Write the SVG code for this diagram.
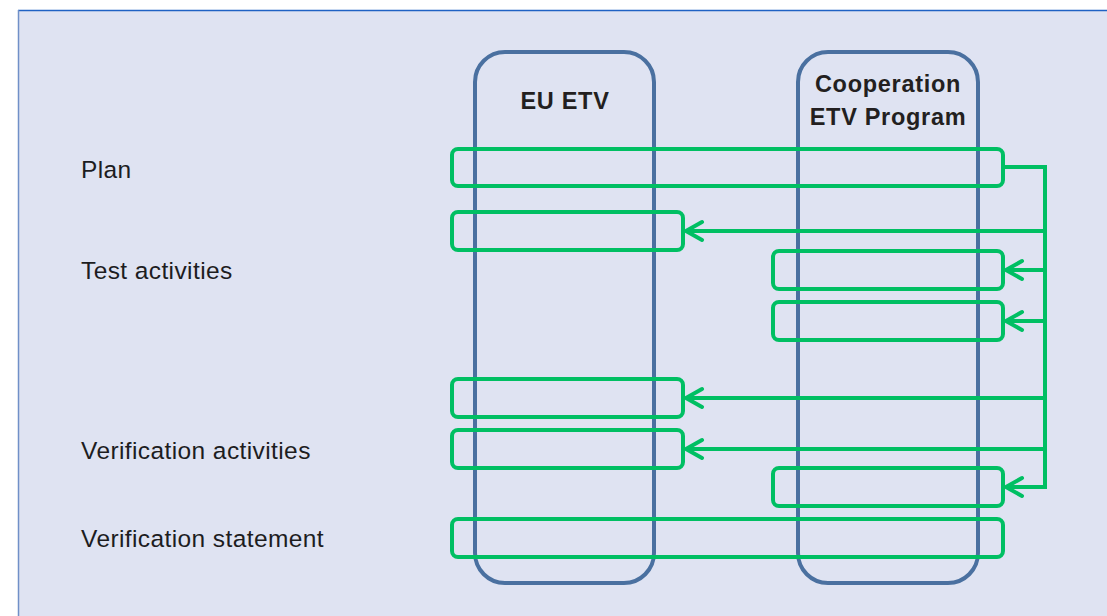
<svg xmlns="http://www.w3.org/2000/svg" width="1107" height="616" viewBox="0 0 1107 616">
<style>
.lbl{font-family:"Liberation Sans",Arial,sans-serif;font-size:24.5px;letter-spacing:0.4px;fill:#1d1d1f}
.ttl{font-family:"Liberation Sans",Arial,sans-serif;font-size:23.5px;letter-spacing:0.7px;font-weight:bold;fill:#231f20;text-anchor:middle}
.col{fill:none;stroke:#4a70a0;stroke-width:4}
.box{fill:none;stroke:#00bf63;stroke-width:4}
.con{fill:none;stroke:#00bf63;stroke-width:4}
</style>
<defs>
<marker id="arr" markerUnits="userSpaceOnUse" markerWidth="24" markerHeight="24" refX="22" refY="12" orient="auto" viewBox="0 0 24 24">
<path d="M6,3 L22,12 L6,21" fill="none" stroke="#00bf63" stroke-width="4" stroke-linecap="round" stroke-linejoin="round"/>
</marker>
</defs>
<rect x="0" y="0" width="1107" height="616" fill="#ffffff"/>
<rect x="18" y="10" width="1100" height="620" fill="#dfe3f2"/>
<line x1="18" y1="10.5" x2="1107" y2="10.5" stroke="#1f62c4" stroke-width="1.5"/>
<line x1="18.5" y1="10" x2="18.5" y2="616" stroke="#7090c8" stroke-width="1.5"/>
<g id="labels">
<text class="lbl" x="81" y="178">Plan</text>
<text class="lbl" x="81" y="279">Test activities</text>
<text class="lbl" x="81" y="459">Verification activities</text>
<text class="lbl" x="81" y="547">Verification statement</text>
</g>
<g id="col-eu">
<rect class="col" x="475" y="52" width="179" height="531" rx="30"/>
<text class="ttl" x="565" y="109">EU ETV</text>
</g>
<g id="col-coop">
<rect class="col" x="798" y="52" width="180" height="531" rx="30"/>
<text class="ttl" x="888" y="92">Cooperation</text>
<text class="ttl" x="888" y="125">ETV Program</text>
</g>
<g id="plan"><rect class="box" x="452" y="149" width="551" height="37" rx="6"/></g>
<g id="eu-test"><rect class="box" x="452" y="212" width="231" height="38" rx="6"/></g>
<g id="coop-test1"><rect class="box" x="773" y="251" width="230" height="38" rx="6"/></g>
<g id="coop-test2"><rect class="box" x="773" y="302" width="230" height="38" rx="6"/></g>
<g id="eu-ver1"><rect class="box" x="452" y="379" width="231" height="38" rx="6"/></g>
<g id="eu-ver2"><rect class="box" x="452" y="430" width="231" height="38" rx="6"/></g>
<g id="coop-ver"><rect class="box" x="773" y="468" width="230" height="38" rx="6"/></g>
<g id="statement"><rect class="box" x="452" y="519" width="551" height="38" rx="6"/></g>
<g id="connectors">
<polyline class="con" points="1003,167 1045,167 1045,487"/>
<line class="con" x1="1045" y1="231" x2="686" y2="231" marker-end="url(#arr)"/>
<line class="con" x1="1045" y1="270" x2="1006" y2="270" marker-end="url(#arr)"/>
<line class="con" x1="1045" y1="321" x2="1006" y2="321" marker-end="url(#arr)"/>
<line class="con" x1="1045" y1="398" x2="686" y2="398" marker-end="url(#arr)"/>
<line class="con" x1="1045" y1="449" x2="686" y2="449" marker-end="url(#arr)"/>
<line class="con" x1="1047" y1="487" x2="1006" y2="487" marker-end="url(#arr)"/>
</g>
</svg>
